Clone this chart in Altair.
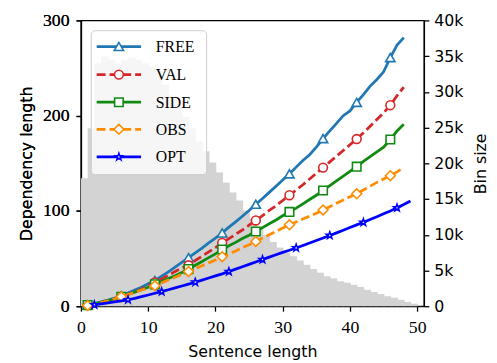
import altair as alt
import pandas as pd

# ---------------- data ----------------
lengths = list(range(1, 49))
opt_lengths = list(range(2, 50))

free = [1.5, 2.8, 4.5, 6.5, 8.7, 11, 14, 17, 20, 23.5,
        27, 31.5, 36, 41, 46, 51, 56, 61, 66.5, 71.5,
        77, 83, 88.5, 94.5, 100.5, 107, 113, 119.5, 126, 132.5,
        139, 146, 153, 159, 167, 176, 184, 192, 200, 205,
        214, 222, 231, 238, 246, 261, 274, 282]
val = [1.2, 2.5, 4, 5.8, 7.8, 10, 12.5, 15, 18, 21.5,
       25, 28.5, 32.5, 36.5, 40, 43, 48, 52.5, 57, 61.5,
       66.5, 71, 75.5, 80, 85, 90, 95, 100.5, 105.5, 111,
       116.5, 122, 127.5, 133.5, 139.5, 145.5, 151.5, 157.5, 163.5, 169.5,
       175.5, 182, 189, 196, 203, 211, 221, 230]
side = [1.2, 2.5, 4, 5.8, 7.8, 10, 12.3, 14.8, 17.3, 20,
        23, 26, 29, 32, 35.5, 39, 43, 47, 51, 55,
        59.5, 63.5, 67, 71, 74.5, 78.5, 82.5, 86.5, 90.5, 95,
        99, 103, 107.5, 112, 116.5, 121.5, 126.5, 131.5, 136.5, 141.5,
        146.5, 152, 157, 162, 167, 175, 184, 191]
obs = [0.8, 2.2, 3.8, 5.6, 7.8, 10, 12.2, 14.5, 17, 19.2,
       21.5, 24.5, 27.5, 30.5, 33.5, 36.5, 39.5, 42.5, 45.5, 48.5,
       52, 55, 58, 61.5, 64.5, 68, 71.5, 75, 78.5, 82,
       85.5, 88.5, 91.5, 94.5, 97.5, 101, 104.5, 108, 111.5, 115,
       118, 122, 126, 130, 133.5, 137, 141, 145.5]
opt = [1.5, 2.5, 3.5, 4.6, 5.7, 6.8, 8.3, 10, 11.8, 13.6,
       15.4, 17.3, 19.2, 21.2, 23.2, 25.2, 27.4, 29.6, 31.8, 34,
       36.4, 38.9, 41.4, 43.9, 46.5, 49, 51.5, 54, 56.5, 58.8,
       61.2, 63.8, 66.4, 69, 71.7, 74.3, 77, 79.8, 82.6, 85.4,
       88.1, 91, 94, 97, 100, 103.3, 106.8, 110.5]

bin_left = list(range(0, 50))
bin_size = [17900, 24900, 34000, 35000, 34500, 34000, 34500, 34800, 34500, 34000,
            33500, 33000, 31000, 29500, 28000, 26500, 25000, 23100, 21700, 20100,
            18700, 17300, 15900, 14800, 13400, 12200, 11000, 10000, 9000, 8200,
            7500, 7000, 6400, 5800, 5200, 4700, 4200, 3900, 3500, 3300,
            3000, 2700, 2300, 2000, 1700, 1400, 1200, 900, 600, 350]

STAR = ("M0,-1L0.235,-0.324L0.951,-0.309L0.380,0.124L0.588,0.809L0,0.4"
        "L-0.588,0.809L-0.380,0.124L-0.951,-0.309L-0.235,-0.324Z")

series_names = ["FREE", "VAL", "SIDE", "OBS", "OPT"]
series_colors = ["#1f77b4", "#d62728", "#108a10", "#ff8c00", "#0000ff"]
series_shapes = ["triangle-up", "circle", "square", "diamond", STAR]
series_sizes = [90, 80, 75, 100, 55]
series_dashed = [False, True, False, True, False]
series_values = [free, val, side, obs, opt]
series_x = [lengths, lengths, lengths, lengths, opt_lengths]
series_mark_start = [1, 1, 1, 1, 2]

XDOM = [0, 51]
YDOM = [0, 300]

SERIF = "Liberation Serif"
SANS = "DejaVu Sans"

AX = dict(titleFont=SANS, titleFontSize=16, titleFontWeight="normal",
          labelFontWeight="normal",
          tickSize=5, grid=False, domainColor="black", tickColor="black",
          labelColor="black", titleColor="black", domainWidth=1.3, tickWidth=1.3)

x_axis = alt.Axis(values=[0, 10, 20, 30, 40, 50], title="Sentence length",
                  labelFont=SERIF, labelFontSize=18, labelPadding=8, titlePadding=7,
                  labelFlush=False, **AX)
x_scale = alt.Scale(domain=XDOM, nice=False, zero=False)

# ---------------- histogram (right axis) ----------------
hist_df = pd.DataFrame({"left": bin_left, "size": bin_size})
hist = alt.Chart(hist_df).transform_calculate(
    right="datum.left + 1.12"
).mark_rect(color="#d3d3d3").encode(
    x=alt.X("left:Q", scale=x_scale, axis=x_axis),
    x2="right:Q",
    y=alt.Y("size:Q", scale=alt.Scale(domain=[0, 40000], nice=False),
            axis=alt.Axis(orient="right", values=list(range(0, 40001, 5000)),
                          labelExpr="datum.value == 0 ? '0' : (datum.value / 1000) + 'k'",
                          title="Bin size", titleAngle=270, titleX=57, titleY=145,
                          titleAlign="center", titleBaseline="middle",
                          labelFont=SANS, labelFontSize=16, labelPadding=5, **AX)),
)

# ---------------- lines (left axis) ----------------
layers = [hist]
left_axis = alt.Axis(orient="left", values=[0, 100, 200, 300], title="Dependency length",
                     labelFont=SERIF, labelFontSize=18, labelPadding=7, titlePadding=8, **AX)
for i, name in enumerate(series_names):
    df = pd.DataFrame({"x": series_x[i], "y": series_values[i]})
    df["marker"] = [((x - series_mark_start[i]) % 5 == 0) for x in series_x[i]]
    xenc = alt.X("x:Q", scale=x_scale, axis=x_axis)
    yenc = alt.Y("y:Q", scale=alt.Scale(domain=YDOM, nice=False),
                 axis=left_axis if i == 0 else None)
    line_kw = dict(color=series_colors[i], strokeWidth=2.8)
    if series_dashed[i]:
        line_kw["strokeDash"] = [9, 4]
    base = alt.Chart(df)
    layers.append(base.mark_line(**line_kw).encode(x=xenc, y=yenc))
    layers.append(
        base.transform_filter("datum.marker").mark_point(
            shape=series_shapes[i], filled=True, fill="white", stroke=series_colors[i],
            strokeWidth=1.6, size=series_sizes[i], opacity=1
        ).encode(x=xenc, y=yenc)
    )

# ---------------- manual legend ----------------
one = pd.DataFrame({"k": [0]})
layers.append(
    alt.Chart(one).mark_rect(fill="white", fillOpacity=0.8, stroke="#cccccc",
                             strokeWidth=1, cornerRadius=4).encode(
        x=alt.value(10.5), x2=alt.value(127.5), y=alt.value(10.5), y2=alt.value(156.5))
)
row_y = [26.5, 55, 83, 110.5, 138.5]
for i, name in enumerate(series_names):
    lk = dict(color=series_colors[i], strokeWidth=2.8)
    if series_dashed[i]:
        lk["strokeDash"] = [9, 4]
    layers.append(
        alt.Chart(one).mark_rule(**lk).encode(
            x=alt.value(16), x2=alt.value(61), y=alt.value(row_y[i]))
    )
    layers.append(
        alt.Chart(one).mark_point(shape=series_shapes[i], filled=True, fill="white",
                                  stroke=series_colors[i], strokeWidth=1.6,
                                  size=series_sizes[i], opacity=1).encode(
            x=alt.value(38.5), y=alt.value(row_y[i]))
    )
    layers.append(
        alt.Chart(pd.DataFrame({"t": [name]})).mark_text(
            font=SERIF, fontSize=16, align="left", baseline="middle", color="black"
        ).encode(text="t:N", x=alt.value(76), y=alt.value(row_y[i] + 0.5))
    )

chart = alt.layer(*layers).resolve_scale(y="independent").properties(
    width=348, height=290,
    autosize=alt.AutoSizeParams(type="none"),
    padding={"left": 74, "top": 10, "right": 66, "bottom": 54},
).configure_view(stroke="black", strokeWidth=1.3)

chart.save("out.html", embed_options={"renderer": "svg", "actions": False})
